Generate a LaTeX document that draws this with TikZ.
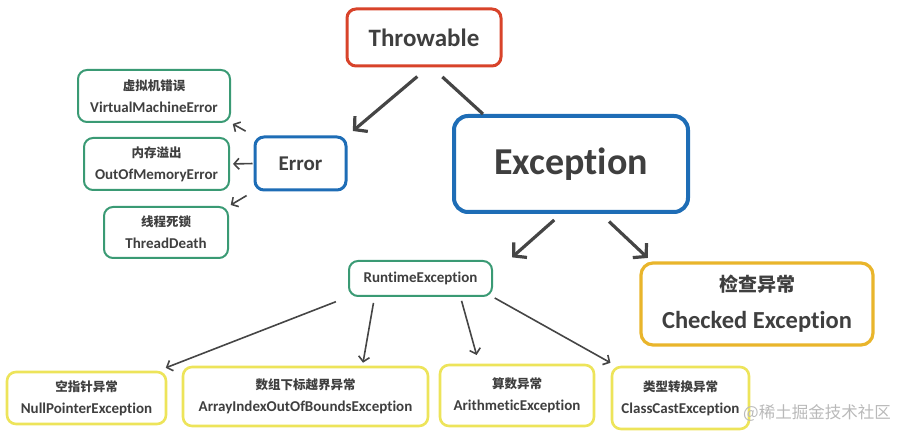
\documentclass[tikz,border=0pt]{standalone}
\usepackage{fontspec}
\setmainfont{Carlito}[Ligatures=NoCommon]
\newfontfamily\cjk{Noto Sans CJK SC}
\usepackage{tikz}
\usetikzlibrary{arrows.meta}
\definecolor{txtgray}{HTML}{3F3F3F}
\definecolor{linegray}{HTML}{454545}
\definecolor{boxred}{HTML}{D8432A}
\definecolor{boxblue}{HTML}{1E6DB6}
\definecolor{boxgreen}{HTML}{3A9A74}
\definecolor{boxyellow}{HTML}{EDE45A}
\definecolor{boxgold}{HTML}{E9B52B}

\begin{document}
\begin{tikzpicture}[x=1pt,y=-1pt,
  box/.style={draw,rounded corners=9pt,fill=white,text=txtgray,align=center,inner sep=0pt,font=\bfseries},
  redbox/.style={box,draw=boxred,line width=3pt},
  bluebox/.style={box,draw=boxblue,line width=3pt},
  greenbox/.style={box,draw=boxgreen,line width=2pt},
  yellowbox/.style={box,draw=boxyellow,line width=2.6pt},
  goldbox/.style={box,draw=boxgold,line width=3.2pt,rounded corners=12pt},
  bigarrow/.style={draw=linegray,line width=3.2pt,-{Straight Barb[length=9pt,width=20pt]}},
  smallarrow/.style={draw=linegray,line width=1.6pt,-{Straight Barb[length=5pt,width=11pt]}}]
\useasboundingbox (0,0) rectangle (900,438);

% top level
\node[redbox,minimum width=154pt,minimum height=57pt,font=\bfseries\fontsize{25}{28}\selectfont] (throwable) at (424,37.5) {Throwable};
\node[bluebox,minimum width=91pt,minimum height=53pt,font=\bfseries\fontsize{21}{24}\selectfont] (error) at (300.5,163.5) {Error};
\node[bluebox,line width=4pt,rounded corners=14pt,minimum width=234pt,minimum height=96pt,font=\bfseries\fontsize{38}{42}\selectfont] (exception) at (571,164) {Exception};

% errors
\node[greenbox,minimum width=152pt,minimum height=52pt,font=\bfseries\fontsize{15}{17}\selectfont] (vme) at (154,96) {{\cjk\bfseries\fontsize{12.5}{14}\selectfont 虚拟机错误}\\[5pt]VirtualMachineError};
\node[greenbox,minimum width=145pt,minimum height=52pt,font=\bfseries\fontsize{15}{17}\selectfont] (oom) at (156.5,164) {{\cjk\bfseries\fontsize{12.5}{14}\selectfont 内存溢出}\\[5pt]OutOfMemoryError};
\node[greenbox,minimum width=124pt,minimum height=51pt,font=\bfseries\fontsize{15}{17}\selectfont] (tdeath) at (166,232.5) {{\cjk\bfseries\fontsize{12.5}{14}\selectfont 线程死锁}\\[5pt]ThreadDeath};

% exceptions
\node[greenbox,minimum width=143pt,minimum height=35pt,font=\bfseries\fontsize{15}{17}\selectfont] (runtime) at (420.5,278.5) {RuntimeException};
\node[goldbox,minimum width=232pt,minimum height=82pt,font=\bfseries\fontsize{24.5}{28}\selectfont] (checked) at (757,304) {{\cjk\bfseries\fontsize{19}{22}\selectfont 检查异常}\\[9pt]Checked Exception};

% runtime exceptions
\node[yellowbox,minimum width=159pt,minimum height=52pt,font=\bfseries\fontsize{15}{17}\selectfont] (npe) at (86.5,398) {{\cjk\bfseries\fontsize{12.5}{14}\selectfont 空指针异常}\\[5pt]NullPointerException};
\node[yellowbox,minimum width=245pt,minimum height=59pt,font=\bfseries\fontsize{15}{17}\selectfont] (aioobe) at (305.5,396.5) {{\cjk\bfseries\fontsize{12.5}{14}\selectfont 数组下标越界异常}\\[5pt]ArrayIndexOutOfBoundsException};
\node[yellowbox,minimum width=154pt,minimum height=61pt,font=\bfseries\fontsize{15}{17}\selectfont] (arith) at (517,395.5) {{\cjk\bfseries\fontsize{12.5}{14}\selectfont 算数异常}\\[5pt]ArithmeticException};
\node[yellowbox,minimum width=137pt,minimum height=62pt,font=\bfseries\fontsize{15}{17}\selectfont] (ccast) at (680.5,398) {{\cjk\bfseries\fontsize{12.5}{14}\selectfont 类型转换异常}\\[5pt]ClassCastException};

% connectors
\draw[bigarrow,shorten <=14pt,shorten >=7pt] ([xshift=4pt]throwable.south) -- (error.north east);
\draw[draw=linegray,line width=3.2pt,shorten <=14pt] ([xshift=8pt]throwable.south) -- ([xshift=31pt]exception.north west);
\draw[smallarrow,shorten <=9pt,shorten >=2pt] (error.north west) -- (vme.south east);
\draw[smallarrow,shorten <=1pt,shorten >=3pt] (error.west) -- (oom.east);
\draw[smallarrow,shorten <=8pt,shorten >=2pt] (error.south west) -- (tdeath.north east);
\draw[bigarrow,shorten <=9pt,shorten >=4pt] ([xshift=-10pt]exception.south) -- ([xshift=16pt]runtime.north east);
\draw[bigarrow,shorten <=11pt,shorten >=5pt] ([xshift=30pt]exception.south) -- ([xshift=12pt]checked.north west);
\draw[smallarrow,shorten <=13pt,shorten >=8pt] (runtime.south west) -- ([xshift=-9pt]npe.north east);
\draw[smallarrow,shorten <=6pt,shorten >=3pt] ([xshift=-46pt]runtime.south) -- ([xshift=57pt]aioobe.north);
\draw[smallarrow,shorten <=4pt,shorten >=9pt] ([xshift=40pt]runtime.south) -- ([xshift=-38pt]arith.north);
\draw[smallarrow,shorten <=2pt,shorten >=6pt] (runtime.south east) -- ([xshift=5pt]ccast.north west);

% watermark
\node[text=gray!55,font=\cjk\fontsize{16.5}{19}\selectfont,anchor=west,inner sep=0pt] (mark) at (743,413) {@稀土掘金技术社区};
\end{tikzpicture}
\end{document}
